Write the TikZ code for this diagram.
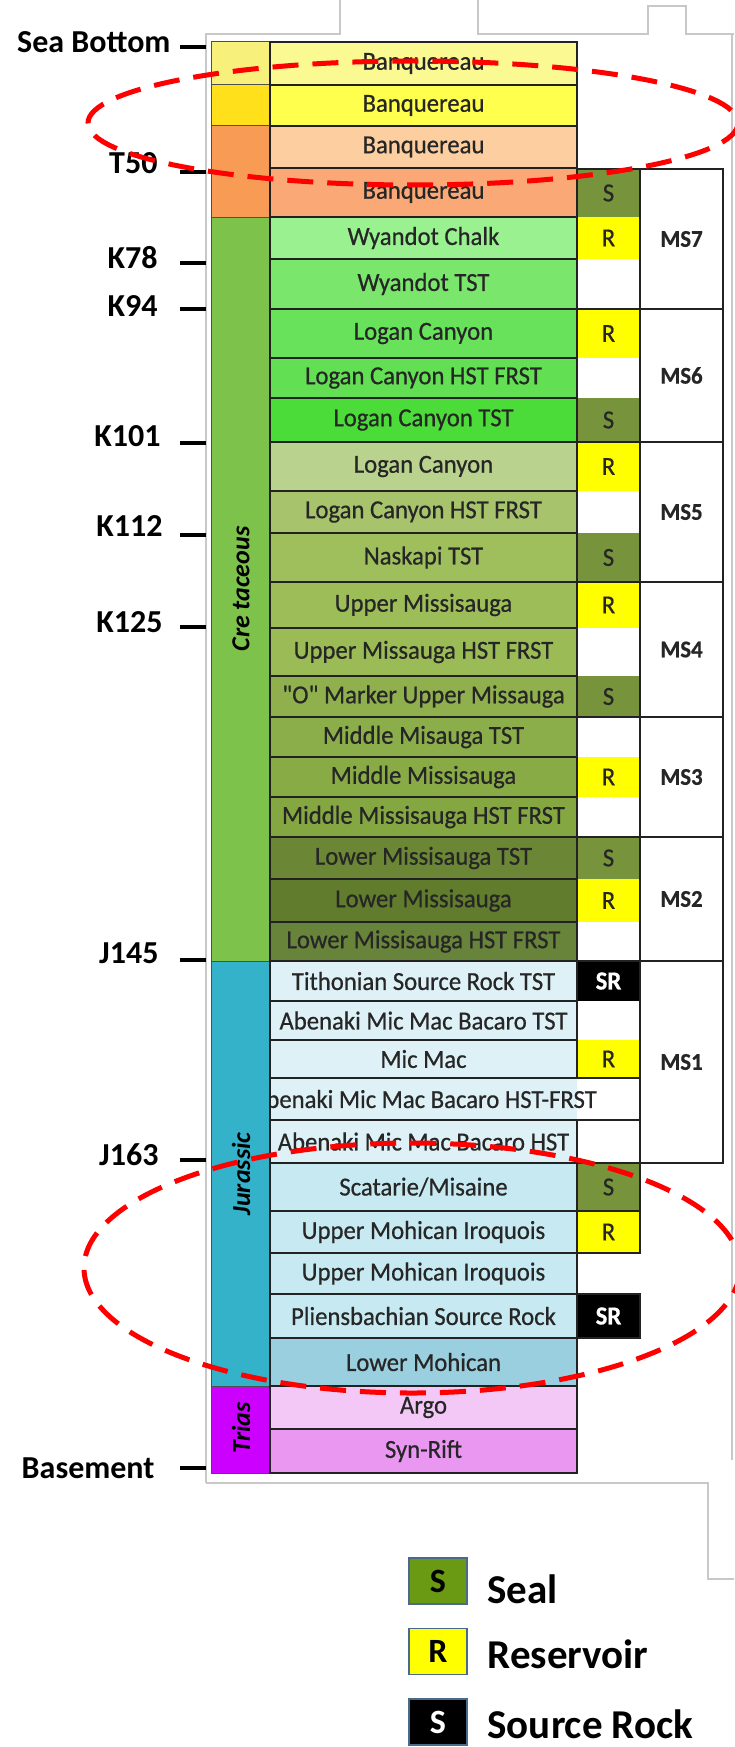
\documentclass[tikz,border=0pt]{standalone}
\usepackage{fontspec}
\setmainfont{Carlito}
\newfontfamily\cellfont[FakeStretch=0.95,FakeBold=0.6]{Carlito}
\definecolor{banqA}{HTML}{FBFA92}
\definecolor{banqB}{HTML}{FFFF4D}
\definecolor{banqC}{HTML}{FDCFA0}
\definecolor{banqD}{HTML}{F9A876}
\definecolor{wyc}{HTML}{99F28F}
\definecolor{wyt}{HTML}{7AE66B}
\definecolor{lcA}{HTML}{68E25A}
\definecolor{lcB}{HTML}{62DF53}
\definecolor{lcC}{HTML}{4CDC3A}
\definecolor{lcD}{HTML}{B9D28D}
\definecolor{lcE}{HTML}{A7C46C}
\definecolor{nsk}{HTML}{9FBF5D}
\definecolor{umA}{HTML}{9DBD59}
\definecolor{umB}{HTML}{9ABB56}
\definecolor{omk}{HTML}{8FB04C}
\definecolor{mmA}{HTML}{8CAE4A}
\definecolor{mmB}{HTML}{88AB46}
\definecolor{mmC}{HTML}{84A742}
\definecolor{lmA}{HTML}{6B8735}
\definecolor{lmB}{HTML}{617C2C}
\definecolor{lmC}{HTML}{68843A}
\definecolor{jurL}{HTML}{DDF1F7}
\definecolor{jurM}{HTML}{C7EAF2}
\definecolor{jurD}{HTML}{9ACFE0}
\definecolor{argo}{HTML}{F3C8F6}
\definecolor{synr}{HTML}{E997F0}
\definecolor{perY}{HTML}{F7F17C}
\definecolor{perG}{HTML}{FFE01B}
\definecolor{perO}{HTML}{F89B54}
\definecolor{perK}{HTML}{7DC24B}
\definecolor{perJ}{HTML}{33B2C9}
\definecolor{perT}{HTML}{CC00FF}
\definecolor{sealg}{HTML}{77933C}
\definecolor{resy}{HTML}{FFFF00}
\definecolor{legg}{HTML}{6A9A14}
\definecolor{legb}{HTML}{4A6A8A}
\definecolor{txt}{HTML}{262626}
\definecolor{bord}{HTML}{222222}
\definecolor{frame}{HTML}{C8C8C8}
\newcommand\fmrow[5]{%
  \pgfmathsetmacro\rowh{#3-#2}%
  \pgfmathsetmacro\rowc{(#2+#3)/2}%
  \node[fmbox,fill=#4,minimum height=\rowh pt] (#1) at (423.5,\rowc) {#5};%
}
\newcommand\prcell[5]{%
  \pgfmathsetmacro\rowh{#3-#2}%
  \pgfmathsetmacro\rowc{(#2+#3)/2}%
  \node[prbox,#4,minimum height=\rowh pt] (#1) at (608.5,\rowc) {#5};%
}
\newcommand\msgroup[4]{%
  \pgfmathsetmacro\rowh{#3-#2}%
  \pgfmathsetmacro\rowc{(#2+#3)/2}%
  \draw[msline] (577,#2) rectangle (723,#3);%
  \node[msbox,minimum height=\rowh pt] (#1) at (681.5,\rowc) {#4};%
}
\newcommand\percell[4]{%
  \pgfmathsetmacro\rowh{#3-#2}%
  \pgfmathsetmacro\rowc{(#2+#3)/2}%
  \node[perbox,fill=#4,minimum height=\rowh pt] (#1) at (240.5,\rowc) {};%
}
\begin{document}
\begin{tikzpicture}[x=1pt,y=-1pt,
  fmbox/.style={draw=bord,line width=2.5pt,rectangle,minimum width=307pt,inner sep=0pt,outer sep=0pt,
    text=txt,font=\cellfont\fontsize{26}{28}\selectfont},
  prbox/.style={rectangle,minimum width=63pt,inner sep=0pt,outer sep=0pt,font=\cellfont\fontsize{26}{28}\selectfont},
  seal/.style={fill=sealg,text=txt},
  res/.style={fill=resy,text=txt},
  src/.style={fill=black,text=white,font=\cellfont\fontsize{26}{28}\selectfont\bfseries},
  boxed/.style={draw=bord,line width=1.5pt},
  msline/.style={draw=bord,line width=2pt},
  msbox/.style={draw=bord,line width=2pt,rectangle,minimum width=83pt,inner sep=0pt,outer sep=0pt,
    text=txt,font=\cellfont\fontsize{24}{28}\selectfont\bfseries},
  perbox/.style={draw=bord!80,line width=1pt,rectangle,minimum width=59pt,inner sep=0pt,outer sep=0pt},
  perlab/.style={text=black,font=\fontsize{26}{28}\selectfont\bfseries\itshape,rotate=90},
  lab/.style={text=black,font=\fontsize{32}{34}\selectfont\bfseries,anchor=east},
  tick/.style={line width=4pt,black},
  redell/.style={draw=red,line width=5pt,dash pattern=on 26pt off 14pt},
  frameline/.style={draw=frame,line width=1.5pt},
  lgbox/.style={draw=legb,line width=1.5pt,minimum width=58pt,minimum height=46pt,inner sep=0pt,
    font=\fontsize{34}{36}\selectfont\bfseries},
  lgtext/.style={anchor=base west,text=black,font=\fontsize{41}{44}\selectfont\bfseries}
]
\useasboundingbox (0,0) rectangle (734,1747);
\fill[white] (0,0) rectangle (734,1747);

% faint frame lines
\draw[frameline] (206,1483) -- (206,34) -- (340,34) -- (340,0);
\draw[frameline] (478,0) -- (478,34) -- (648,34) -- (648,6) -- (686,6) -- (686,34) -- (734,34);
\draw[frameline] (732,34) -- (732,1460);
\draw[frameline] (206,1483) -- (708,1483) -- (708,1579) -- (734,1579);

% period column
\percell{pa}{42}{85}{perY}
\percell{pb}{85}{126}{perG}
\percell{pc}{126}{217}{perO}
\percell{pk}{217}{961}{perK}
\percell{pj}{961}{1386}{perJ}
\percell{pt}{1386}{1473}{perT}

% property cells (within MS groups)
\prcell{p1}{169}{217}{seal}{S}
\prcell{p2}{217}{259}{res}{R}
\prcell{p3}{309}{358}{res}{R}
\prcell{p4}{398}{442}{seal}{S}
\prcell{p5}{442}{491}{res}{R}
\prcell{p6}{533}{582}{seal}{S}
\prcell{p7}{582}{628}{res}{R}
\prcell{p8}{676}{717}{seal}{S}
\prcell{p9}{757}{797}{res}{R}
\prcell{p10}{837}{879}{seal}{S}
\prcell{p11}{879}{922}{res}{R}
\prcell{p12}{961}{1001}{src}{SR}
\prcell{p13}{1040}{1078}{res}{R}

% MS groups
\msgroup{ms7}{169}{309}{MS7}
\msgroup{ms6}{309}{442}{MS6}
\msgroup{ms5}{442}{582}{MS5}
\msgroup{ms4}{582}{717}{MS4}
\msgroup{ms3}{717}{837}{MS3}
\msgroup{ms2}{837}{961}{MS2}
\msgroup{ms1}{961}{1163}{MS1}

% property cells below MS1
\prcell{p14}{1163}{1211}{seal,boxed}{S}
\prcell{p15}{1211}{1253}{res,boxed}{R}
\prcell{p16}{1294}{1338}{src,boxed}{SR}

% formation rows
\fmrow{f1}{42}{85}{banqA}{Banquereau}
\fmrow{f2}{85}{126}{banqB}{Banquereau}
\fmrow{f3}{126}{168}{banqC}{Banquereau}
\fmrow{f4}{168}{217}{banqD}{Banquereau}
\fmrow{f5}{217}{259}{wyc}{Wyandot Chalk}
\fmrow{f6}{259}{309}{wyt}{Wyandot TST}
\fmrow{f7}{309}{358}{lcA}{Logan Canyon}
\fmrow{f8}{358}{398}{lcB}{Logan Canyon HST FRST}
\fmrow{f9}{398}{442}{lcC}{Logan Canyon TST}
\fmrow{f10}{442}{491}{lcD}{Logan Canyon}
\fmrow{f11}{491}{533}{lcE}{Logan Canyon HST FRST}
\fmrow{f12}{533}{582}{nsk}{Naskapi TST}
\fmrow{f13}{582}{628}{umA}{Upper Missisauga}
\fmrow{f14}{628}{676}{umB}{Upper Missauga HST FRST}
\fmrow{f15}{676}{717}{omk}{\char34 O\char34\ Marker Upper Missauga}
\fmrow{f16}{717}{757}{mmA}{Middle Misauga TST}
\fmrow{f17}{757}{797}{mmB}{Middle Missisauga}
\fmrow{f18}{797}{837}{mmC}{Middle Missisauga HST FRST}
\fmrow{f19}{837}{879}{lmA}{Lower Missisauga TST}
\fmrow{f20}{879}{922}{lmB}{Lower Missisauga}
\fmrow{f21}{922}{961}{lmC}{Lower Missisauga HST FRST}
\fmrow{f22}{961}{1001}{jurL}{Tithonian Source Rock TST}
\fmrow{f23}{1001}{1040}{jurL}{Abenaki Mic Mac Bacaro TST}
\fmrow{f24}{1040}{1078}{jurL}{Mic Mac}
\fill[jurL] (270,1078) rectangle (577,1120);
\fill[white] (577,1078) rectangle (640,1120);
\draw[draw=bord,line width=2.5pt] (270,1078) rectangle (640,1120);
\begin{scope}
  \clip (271,1079) rectangle (639,1119);
  \node[text=txt,font=\cellfont\fontsize{26}{28}\selectfont,anchor=east,inner sep=0pt] (f25) at (597,1099) {Abenaki Mic Mac Bacaro HST-FRST};
\end{scope}
\fmrow{f26}{1120}{1163}{jurL}{Abenaki Mic Mac Bacaro HST}
\fmrow{f27}{1163}{1211}{jurM}{Scatarie/Misaine}
\fmrow{f28}{1211}{1253}{jurM}{Upper Mohican Iroquois}
\fmrow{f29}{1253}{1294}{jurM}{Upper Mohican Iroquois}
\fmrow{f30}{1294}{1338}{jurM}{Pliensbachian Source Rock}
\fmrow{f31}{1338}{1386}{jurD}{Lower Mohican}
\fmrow{f32}{1386}{1429}{argo}{Argo}
\fmrow{f33}{1429}{1473}{synr}{Syn-Rift}

% period labels
\node[perlab] (crt) at (241,589) {Cre taceous};
\node[perlab] (jur) at (241,1174) {Jurassic};
\node[perlab] (tri) at (241,1428) {Trias};

% horizon labels and ticks
\node[lab] (lsb) at (174,42) {Sea Bottom};
\node[lab] (lt50) at (161,163) {T50};
\node[lab] (lk78) at (161,258) {K78};
\node[lab] (lk94) at (161,306) {K94};
\node[lab] (lk101) at (164,436) {K101};
\node[lab] (lk112) at (166,526) {K112};
\node[lab] (lk125) at (166,622) {K125};
\node[lab] (lj145) at (162,953) {J145};
\node[lab] (lj163) at (162,1155) {J163};
\node[lab] (lbas) at (158,1468) {Basement};
\foreach \yy in {47,172,263,309,443,535,627,960,1160,1468}
  \draw[tick] (180,\yy) -- (206,\yy);

% red dashed ellipses
\draw[redell] (413,123) ellipse [x radius=325, y radius=62];
\draw[redell] (412,1268) ellipse [x radius=328, y radius=125];

% legend
\node[lgbox,fill=legg,text=black] (lgs) at (438,1581) {S};
\node[lgtext] (lgst) at (484,1603) {Seal};
\node[lgbox,fill=resy,text=black] (lgr) at (438,1651.5) {R};
\node[lgtext] (lgrt) at (484,1668) {Reservoir};
\node[lgbox,fill=black,text=white] (lgk) at (438,1722) {S};
\node[lgtext] (lgkt) at (484,1738) {Source Rock};
\end{tikzpicture}
\end{document}
